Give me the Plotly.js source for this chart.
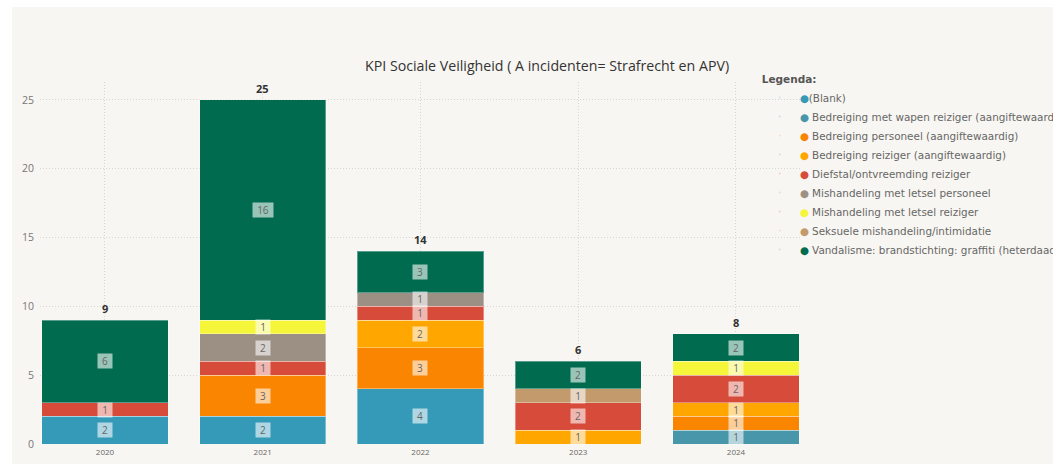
<!DOCTYPE html>
<html>
<head>
<meta charset="utf-8">
<script src="https://cdn.plot.ly/plotly-3.0.1.min.js"></script>
<style>
html,body{margin:0;padding:0;background:#ffffff;width:1053px;height:464px;overflow:hidden;}
#chart{position:absolute;left:12px;top:7px;width:1041px;height:457px;}
</style>
</head>
<body>
<div id="chart"></div>
<script>
// ---- data ----
const years = ['2020', '2021', '2022', '2023', '2024'];
const seriesNames = [
  '(Blank)',
  'Bedreiging met wapen reiziger (aangiftewaardig)',
  'Bedreiging personeel (aangiftewaardig)',
  'Bedreiging reiziger (aangiftewaardig)',
  'Diefstal/ontvreemding reiziger',
  'Mishandeling met letsel personeel',
  'Mishandeling met letsel reiziger',
  'Seksuele mishandeling/intimidatie',
  'Vandalisme: brandstichting: graffiti (heterdaad)'
];
const blank          = [2, 2, 4, 0, 0];
const wapenReiziger  = [0, 0, 0, 0, 1];
const bedrPersoneel  = [0, 3, 3, 0, 1];
const bedrReiziger   = [0, 0, 2, 1, 1];
const diefstal       = [1, 1, 1, 2, 2];
const mishPersoneel  = [0, 2, 1, 0, 0];
const mishReiziger   = [0, 1, 0, 0, 1];
const seksueel       = [0, 0, 0, 1, 0];
const vandalisme     = [6, 16, 3, 2, 2];

const seriesValues = [blank, wapenReiziger, bedrPersoneel, bedrReiziger, diefstal,
                      mishPersoneel, mishReiziger, seksueel, vandalisme];
const colors = ['#3599b8', '#4896aa', '#f98500', '#ffa600', '#d64b3a',
                '#9b9083', '#f5f53a', '#c29a6b', '#006b4f'];

// ---- traces ----
const traces = [];
seriesValues.forEach((vals, i) => {
  traces.push({
    type: 'bar',
    x: years,
    y: vals.map(v => v === 0 ? null : v),
    name: seriesNames[i],
    marker: {color: colors[i], line: {color: 'rgba(255,255,255,0.35)', width: 1}},
    showlegend: false,
    hoverinfo: 'x+y+name'
  });
});
seriesValues.forEach((vals, i) => {
  const gap = i === 0 ? '' : ' ';
  traces.push({
    type: 'scatter',
    mode: 'markers',
    x: [null], y: [null],
    name: '<span style="color:' + colors[i] + '">●</span>' + gap + seriesNames[i],
    marker: {opacity: 0, size: 1},
    showlegend: true,
    hoverinfo: 'skip'
  });
});

// ---- annotations from data ----
const annotations = [];
years.forEach((yr, j) => {
  let cum = 0;
  seriesValues.forEach((vals) => {
    const v = vals[j];
    if (v > 0) {
      const txt = String(v);
      annotations.push({
        x: j, y: cum + v / 2, xref: 'x', yref: 'y',
        text: txt, showarrow: false,
        font: {family: 'Open Sans', size: 10, color: '#666'},
        bgcolor: 'rgba(255,255,255,0.6)',
        width: txt.length > 1 ? 18 : 12, height: 12,
        borderpad: 1
      });
    }
    cum += v;
  });
  annotations.push({
    x: j, y: cum, xref: 'x', yref: 'y',
    text: '<b>' + cum + '</b>', showarrow: false,
    yanchor: 'bottom', yshift: 2,
    font: {family: 'Open Sans', size: 11, color: '#333'}
  });
});

const layout = {
  width: 1041, height: 457,
  margin: {l: 28, r: 253, t: 75, b: 20, pad: 0, autoexpand: false},
  paper_bgcolor: '#f8f6f2',
  plot_bgcolor: '#f8f6f2',
  barmode: 'stack',
  bargap: 0.2,
  title: {
    text: 'KPI Sociale Veiligheid ( A incidenten= Strafrecht en APV)',
    font: {family: 'Open Sans', size: 14.2, color: '#333'},
    xref: 'container', x: 0.514, xanchor: 'center',
    yref: 'container', y: 0.871, yanchor: 'middle'
  },
  xaxis: {
    type: 'category',
    range: [-0.412, 4.406],
    showgrid: true, gridcolor: '#d6d6d6', griddash: '1px,2px', gridwidth: 1,
    zeroline: false, showline: false, ticks: '',
    tickfont: {family: 'Open Sans', size: 8, color: '#666'},
    ticklabelstandoff: 2,
    fixedrange: true
  },
  yaxis: {
    range: [0, 26.3],
    tickvals: [0, 5, 10, 15, 20, 25],
    showgrid: true, gridcolor: '#d6d6d6', griddash: '1px,2px', gridwidth: 1,
    zeroline: false, showline: false, ticks: '',
    tickfont: {family: 'Open Sans', size: 10.5, color: '#777'},
    ticklabelstandoff: 5,
    fixedrange: true
  },
  legend: {
    x: 0.947, xanchor: 'left', xref: 'paper',
    y: 1.035, yanchor: 'top',
    traceorder: 'normal',
    bgcolor: 'rgba(0,0,0,0)',
    font: {family: 'DejaVu Sans', size: 10.4, color: '#666'},
    title: {text: '<b>Legenda:</b>', font: {family: 'DejaVu Sans', size: 10.5, color: '#555'}}
  },
  annotations: annotations,
  showlegend: true
};

Plotly.newPlot('chart', traces, layout, {displayModeBar: false, staticPlot: true});
</script>
</body>
</html>
